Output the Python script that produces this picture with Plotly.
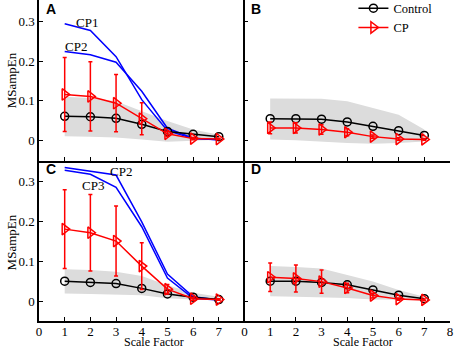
import plotly.graph_objects as go
from plotly.subplots import make_subplots

scale = [1, 2, 3, 4, 5, 6, 7]

# Panel A
ctrl_A = [0.061, 0.060, 0.056, 0.041, 0.023, 0.016, 0.010]
cp_A = [0.116, 0.111, 0.094, 0.055, 0.017, 0.005, 0.004]
cp_err_A = [0.093, 0.087, 0.072, 0.040, 0.006, 0.003, 0.002]
cp1_A = [0.294, 0.277, 0.211, 0.103, 0.025, 0.005, 0.002]
cp2_A = [0.224, 0.216, 0.197, 0.124, 0.031, 0.006, 0.002]
band_hi_A = [0.110, 0.107, 0.099, 0.074, 0.049, 0.028, 0.015]
band_lo_A = [0.011, 0.010, 0.008, 0.003, -0.003, -0.001, 0.002]

# Panel B
ctrl_B = [0.055, 0.055, 0.054, 0.047, 0.036, 0.025, 0.013]
cp_B = [0.032, 0.032, 0.028, 0.021, 0.010, 0.004, 0.003]
cp_err_B = [0.015, 0.013, 0.012, 0.009, 0.004, 0.003, 0.002]
band_hi_B = [0.106, 0.106, 0.105, 0.099, 0.082, 0.065, 0.028]
band_lo_B = [0.003, 0.001, -0.002, -0.006, -0.008, -0.006, -0.002]

# Panel C
ctrl_C = [0.050, 0.047, 0.044, 0.032, 0.018, 0.010, 0.004]
cp_C = [0.181, 0.172, 0.151, 0.088, 0.030, 0.006, 0.004]
cp_err_C = [0.099, 0.096, 0.088, 0.059, 0.012, 0.004, 0.002]
cp2_C = [0.336, 0.327, 0.317, 0.199, 0.068, 0.011, 0.003]
cp3_C = [0.329, 0.319, 0.286, 0.187, 0.058, 0.007, 0.003]
band_hi_C = [0.080, 0.078, 0.074, 0.063, 0.040, 0.021, 0.011]
band_lo_C = [0.019, 0.018, 0.017, 0.015, 0.007, 0.004, 0.003]

# Panel D
ctrl_D = [0.050, 0.050, 0.047, 0.041, 0.028, 0.015, 0.006]
cp_D = [0.060, 0.057, 0.049, 0.033, 0.014, 0.005, 0.003]
cp_err_D = [0.036, 0.034, 0.029, 0.012, 0.006, 0.003, 0.002]
band_hi_D = [0.088, 0.086, 0.082, 0.065, 0.049, 0.028, 0.011]
band_lo_D = [0.012, 0.011, 0.010, 0.008, 0.004, 0.003, 0.003]

y_ticks = [0, 0.1, 0.2, 0.3]
y_tick_text = ["0", "0.1", "0.2", "0.3"]

SERIF = "Liberation Serif"
GRAY = "rgb(220,220,220)"

fig = make_subplots(rows=2, cols=2, horizontal_spacing=0, vertical_spacing=0)

panels = [
    (1, 1, ctrl_A, cp_A, cp_err_A, band_hi_A, band_lo_A, [cp1_A, cp2_A]),
    (1, 2, ctrl_B, cp_B, cp_err_B, band_hi_B, band_lo_B, []),
    (2, 1, ctrl_C, cp_C, cp_err_C, band_hi_C, band_lo_C, [cp2_C, cp3_C]),
    (2, 2, ctrl_D, cp_D, cp_err_D, band_hi_D, band_lo_D, []),
]

for i, (r, c, ctrl, cp, err, hi, lo, blues) in enumerate(panels):
    fig.add_trace(go.Scatter(x=scale + scale[::-1], y=hi + lo[::-1], fill="toself",
                             fillcolor=GRAY, line=dict(width=0), mode="lines",
                             showlegend=False, hoverinfo="skip"), row=r, col=c)
    for b in blues:
        fig.add_trace(go.Scatter(x=scale, y=b, mode="lines",
                                 line=dict(color="#0000ff", width=1.5),
                                 showlegend=False), row=r, col=c)
    fig.add_trace(go.Scatter(x=scale, y=ctrl, mode="lines+markers", name="Control",
                             line=dict(color="black", width=1.5),
                             marker=dict(symbol="circle-open", size=8, color="black",
                                         line=dict(width=1.5)),
                             showlegend=(i == 0)), row=r, col=c)
    fig.add_trace(go.Scatter(x=scale, y=cp, mode="lines+markers", name="CP",
                             line=dict(color="red", width=1.5),
                             marker=dict(symbol="triangle-right-open", size=10, color="red",
                                         line=dict(width=1.5)),
                             error_y=dict(type="data", array=err, color="red",
                                          thickness=1.5, width=2),
                             showlegend=(i == 0)), row=r, col=c)

axis_common = dict(showline=True, linecolor="black", linewidth=1.5, ticks="inside",
                   ticklen=4, tickcolor="black", showgrid=False, zeroline=False,
                   automargin=False,
                   tickfont=dict(family=SERIF, size=13, color="black"))

for r in (1, 2):
    for c in (1, 2):
        fig.update_yaxes(range=[-0.05, 0.3535], tickvals=y_ticks, ticktext=y_tick_text,
                         showticklabels=(c == 1), row=r, col=c, **axis_common)
        xt = list(range(0, 8)) if c == 1 else list(range(0, 9))
        fig.update_xaxes(range=[0, 8], tickvals=xt, showticklabels=(r == 2),
                         ticklabelstandoff=-2, row=r, col=c, **axis_common)

ann = []
for txt, x, y in [("A", 0.012, 0.972), ("B", 0.512, 0.972), ("C", 0.012, 0.472), ("D", 0.512, 0.472)]:
    ann.append(dict(text="<b>%s</b>" % txt, x=x, y=y, xref="paper", yref="paper",
                    xanchor="left", yanchor="middle", showarrow=False,
                    font=dict(family="Liberation Sans", size=14, color="black")))
ann.append(dict(text="MSampEn", x=-0.068, y=0.75, xref="paper", yref="paper", textangle=-90,
                xanchor="center", yanchor="middle",
                showarrow=False, font=dict(family=SERIF, size=13, color="black")))
ann.append(dict(text="MSampEn", x=-0.068, y=0.245, xref="paper", yref="paper", textangle=-90,
                xanchor="center", yanchor="middle",
                showarrow=False, font=dict(family=SERIF, size=13, color="black")))
ann.append(dict(text="Scale Factor", x=0.281, y=-0.065, xref="paper", yref="paper",
                xanchor="center", yanchor="middle", showarrow=False,
                font=dict(family=SERIF, size=12, color="black")))
ann.append(dict(text="Scale Factor", x=0.788, y=-0.065, xref="paper", yref="paper",
                xanchor="center", yanchor="middle", showarrow=False,
                font=dict(family=SERIF, size=12, color="black")))
fig.update_layout(annotations=ann)

# Curve labels
fig.add_annotation(text="CP1", x=1.85, y=0.296, xref="x", yref="y", showarrow=False,
                   font=dict(family=SERIF, size=13, color="black"))
fig.add_annotation(text="CP2", x=1.45, y=0.237, xref="x", yref="y", showarrow=False,
                   font=dict(family=SERIF, size=13, color="black"))
fig.add_annotation(text="CP2", x=3.2, y=0.325, xref="x3", yref="y3", showarrow=False,
                   font=dict(family=SERIF, size=13, color="black"))
fig.add_annotation(text="CP3", x=2.1, y=0.290, xref="x3", yref="y3", showarrow=False,
                   font=dict(family=SERIF, size=13, color="black"))

fig.update_layout(
    width=454, height=348,
    margin=dict(l=39, r=4, t=0, b=27, autoexpand=False),
    paper_bgcolor="white", plot_bgcolor="white",
    showlegend=True,
    legend=dict(x=0.765, y=1.02, xanchor="left", yanchor="top",
                bgcolor="rgba(0,0,0,0)", borderwidth=0,
                font=dict(family=SERIF, size=12.5, color="black"),
                tracegroupgap=0, itemsizing="trace"),
)

fig.write_html("out.html", config={"displayModeBar": False},
               post_script="document.body.style.margin='0';document.body.style.overflow='hidden';")
